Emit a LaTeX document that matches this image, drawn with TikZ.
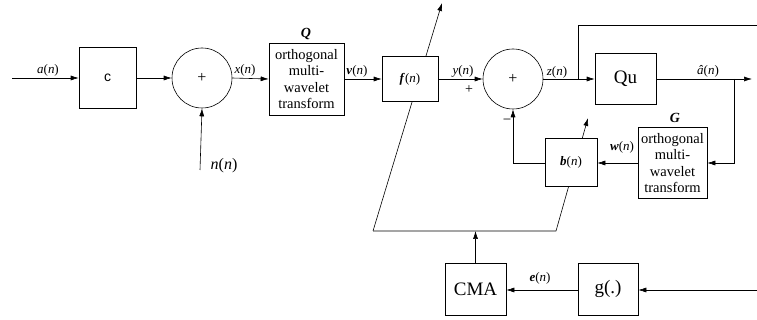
\documentclass[tikz,border=0pt]{standalone}
\usepackage{fontspec}
\setmainfont{Liberation Serif}
\newfontfamily\helv{Liberation Sans}
\usetikzlibrary{arrows.meta,calc}
\begin{document}
\begin{tikzpicture}[x=1pt,y=-1pt,
  line width=0.6pt,
  >={Latex[length=8pt,width=5pt]},
  blk/.style={draw,fill=white,inner sep=0pt,align=center},
  sumnode/.style={draw,fill=white,circle,minimum size=60pt,inner sep=0pt,font=\fontsize{16}{16}\selectfont},
  lbl/.style={font=\fontsize{13}{13}\selectfont,inner sep=0pt},
  boxtxt/.style={font=\fontsize{14.5}{16.5}\selectfont},
  bigtxt/.style={font=\fontsize{19}{20}\selectfont}]
\useasboundingbox (0,0) rectangle (757,320);
% diagonal adaptation lines (behind boxes)
\coordinate (p1) at (373,231);
\coordinate (p2) at (556,231);
\coordinate (ftip) at (442,3);
\coordinate (btip) at (588,118);
\draw[->] (p1) -- (ftip);
\draw[->] (p1) -- (p2) -- (btip);
% blocks
\node[blk,minimum width=57pt,minimum height=61pt,font=\helv\fontsize{14}{14}\selectfont] (c) at (107.5,78) {c};
\node[sumnode] (s1) at (202,78) {+};
\node[blk,minimum width=75pt,minimum height=72pt,boxtxt] (Q) at (306.5,79) {orthogonal\\multi-\\wavelet\\transform};
\node[blk,minimum width=56pt,minimum height=45pt,font=\fontsize{13}{13}\selectfont] (f) at (410,79) {\textbf{\textit{f}}(\textit{n})};
\node[sumnode] (s2) at (513,79) {+};
\node[blk,minimum width=61pt,minimum height=51pt,bigtxt] (Qu) at (625.5,79) {Qu};
\node[blk,minimum width=69pt,minimum height=71pt,boxtxt] (G) at (672.5,163) {orthogonal\\multi-\\wavelet\\transform};
\node[blk,minimum width=52pt,minimum height=48pt,font=\fontsize{13}{13}\selectfont] (b) at (571,162) {\textbf{\textit{b}}(\textit{n})};
\node[blk,minimum width=61pt,minimum height=52pt,bigtxt] (cma) at (475.5,289) {CMA};
\node[blk,minimum width=60pt,minimum height=52pt,bigtxt] (g) at (608,289) {g(.)};
% coordinates
\coordinate (ain) at (12,78);
\coordinate (nin) at (200,170);
\coordinate (zb) at (578,79);
\coordinate (ztop) at (578,25);
\coordinate (zend) at (757,25);
\coordinate (aout) at (752,79);
\coordinate (ab) at (734,79);
\coordinate (gin) at (757,290);
% connectors
\draw[->] (ain) -- (c.west);
\draw[->] (c.east) -- (s1.west);
\draw[->] (nin) -- (s1.south);
\draw[->] (s1.east) -- (Q.west);
\draw[->] (Q.east) -- (f.west);
\draw[->] (f.east) -- (s2.west);
\draw[->] (s2.east) -- (Qu.west);
\draw (zb) -- (ztop) -- (zend);
\draw[->] (Qu.east) -- (aout);
\draw[->] (ab) -- (ab |- G.east) -- (G.east);
\draw[->] (G.west) -- (G.west -| b.east);
\draw[->] (b.west |- G.west) -- (s2.south |- G.west) -- (s2.south);
\draw[->] (cma.north) -- (cma.north |- p1);
\draw[->] (gin) -- (g.east |- gin);
\draw[->] (g.west |- gin) -- (cma.east |- gin);
% labels
\node[lbl] at (48,70) {\textit{a}(\textit{n})};
\node[lbl] at (245,70) {\textit{x}(\textit{n})};
\node[lbl,font=\fontsize{16}{16}\selectfont] at (224,166) {\textit{n}(\textit{n})};
\node[lbl,font=\fontsize{14}{14}\selectfont] at (306,34) {\textbf{\textit{Q}}};
\node[lbl] at (357,71) {\textbf{\textit{v}}(\textit{n})};
\node[lbl] at (463,71) {\textit{y}(\textit{n})};
\node[lbl,font=\fontsize{14}{14}\selectfont] at (469,90) {+};
\node[lbl] at (557,72) {\textit{z}(\textit{n})};
\node[lbl] at (708,71) {\textit{â}(\textit{n})};
\node[lbl,font=\fontsize{14}{14}\selectfont] at (675,118) {\textbf{\textit{G}}};
\node[lbl] at (622,147) {\textbf{\textit{w}}(\textit{n})};
\node[lbl,font=\fontsize{15}{15}\selectfont] at (507,122) {−};
\node[lbl] at (540,278) {\textbf{\textit{e}}(\textit{n})};
\end{tikzpicture}
\end{document}
